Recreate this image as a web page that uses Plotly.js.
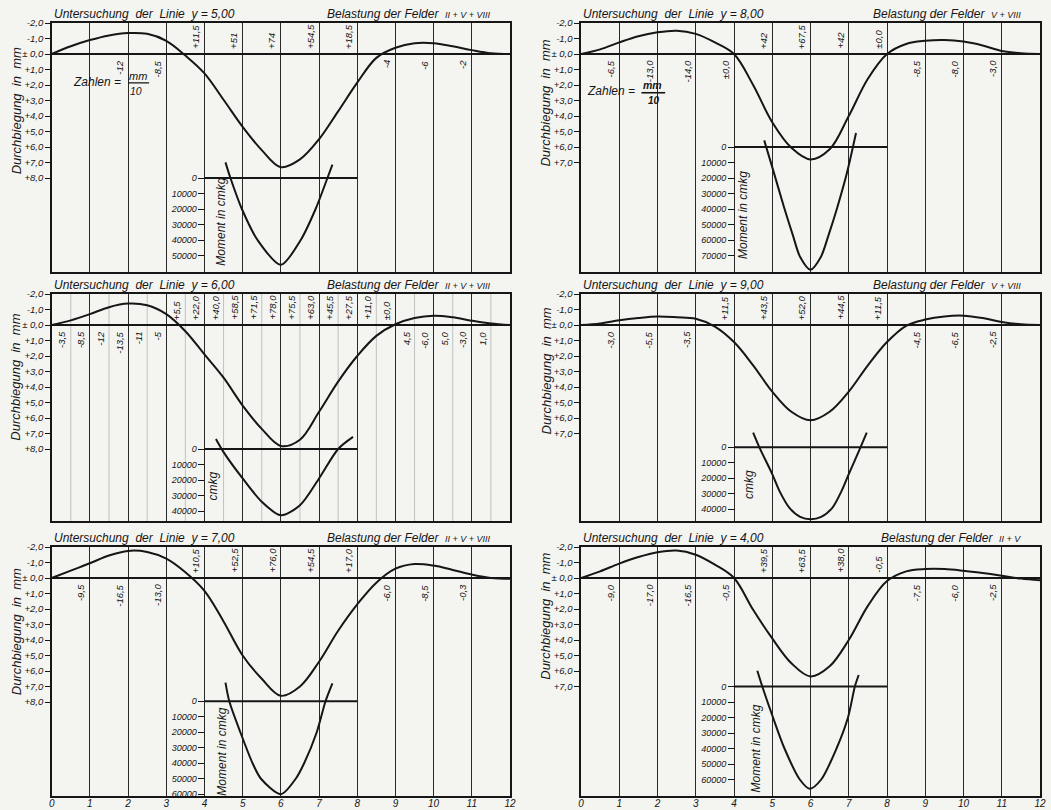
<!DOCTYPE html>
<html><head><meta charset="utf-8">
<script src="https://cdn.plot.ly/plotly-3.0.1.min.js"></script>
<style>html,body{margin:0;padding:0;background:#f4f4f1}</style>
</head><body><div id="chart" style="width:1051px;height:810px"></div>
<script>
// ---------- DATA ----------
const xPos = [0,0.5,1,1.5,2,2.5,3,3.5,4,4.5,5,5.5,6,6.5,7,7.5,8,8.5,9,9.5,10,10.5,11,11.5,12];

// deflection curves (mm, positive = downward)
const deflY5 = [0,-0.5,-0.9,-1.2,-1.35,-1.3,-0.85,0.1,1.25,2.95,4.7,6.2,7.3,6.8,5.5,3.7,1.85,0.25,-0.4,-0.7,-0.7,-0.5,-0.25,-0.05,0];
const deflY8 = [0,-0.3,-0.75,-1.15,-1.4,-1.5,-1.3,-0.75,0,2.0,4.4,6.05,6.8,6.15,4.0,1.6,0,-0.65,-0.85,-0.9,-0.8,-0.55,-0.2,-0.05,0];
const deflY6 = [0,-0.3,-0.7,-1.15,-1.38,-1.27,-0.7,0.4,1.9,3.4,5.2,6.7,7.8,7.4,5.6,3.65,2.0,0.7,-0.05,-0.45,-0.6,-0.5,-0.28,-0.1,0];
const deflY9 = [0,-0.1,-0.3,-0.45,-0.55,-0.5,-0.4,0.1,1.1,2.6,4.3,5.6,6.15,5.6,4.3,2.6,1.1,0.05,-0.35,-0.55,-0.6,-0.45,-0.2,-0.05,0];
const deflY7 = [0,-0.48,-0.95,-1.45,-1.75,-1.68,-1.25,-0.37,0.83,2.8,5.0,6.5,7.6,7.0,5.4,3.4,1.7,0.3,-0.6,-0.9,-0.8,-0.52,-0.22,0,0.05];
const deflY4 = [0,-0.43,-0.93,-1.35,-1.66,-1.77,-1.5,-0.86,0,2.05,3.9,5.5,6.35,5.7,4.0,1.8,0.2,-0.43,-0.58,-0.58,-0.47,-0.32,-0.15,0.04,0.15];

// moment curves (cmkg, positive = downward)
const momXY5 = [4.55,4.68,4.98,5.39,6.0,6.52,6.91,7.22,7.35];
const momMY5 = [-10100,0,20000,40000,56000,40000,20000,0,-8600];
const momXY8 = [4.79,5.0,5.31,5.54,5.73,6.0,6.27,6.47,6.7,6.95,7.19];
const momMY8 = [-4300,13000,39000,57000,71000,79200,71000,57000,39000,17000,-9000];
const momXY6 = [4.30,4.5,5.0,5.5,6.0,6.5,7.0,7.5,7.89];
const momMY6 = [-6500,2000,19000,34000,42800,36300,19000,0,-7800];
const momXY9 = [4.5,4.66,5.0,5.19,5.45,5.73,6.0,6.28,6.57,6.81,7.0,7.31,7.47];
const momMY9 = [-9300,0,17400,28400,39200,45000,46500,45000,39200,28400,17400,0,-9300];
const momXY7 = [4.55,4.65,4.94,5.26,5.48,6.0,6.39,6.61,6.94,7.17,7.35];
const momMY7 = [-12000,0,20000,40000,50000,60000,50000,40000,20000,0,-11500];
const momXY4 = [4.61,4.74,5.02,5.32,5.72,5.98,6.28,6.68,6.98,7.16,7.26];
const momMY4 = [-10200,0,20000,40000,60000,66000,60000,40000,20000,0,-7400];

// value labels along the zero line (side: 1 = above, -1 = below)
const noteXY5 = [2,3,4,5,6,7,8,9,10,11];
const noteTY5 = ['-12','-8,5','+11,5','+51','+74','+54,5','+18,5','-4','-6','-2'];
const noteSY5 = [-1,-1,1,1,1,1,1,-1,-1,-1];
const noteXY8 = [1,2,3,4,5,6,7,8,9,10,11];
const noteTY8 = ['-6,5','-13,0','-14,0','±0,0','+42','+67,5','+42','±0,0','-8,5','-8,0','-3,0'];
const noteSY8 = [-1,-1,-1,-1,1,1,1,1,-1,-1,-1];
const noteXY6 = [0.5,1,1.5,2,2.5,3,3.5,4,4.5,5,5.5,6,6.5,7,7.5,8,8.5,9,9.5,10,10.5,11,11.5];
const noteTY6 = ['-3,5','-8,5','-12','-13,5','-11','-5','+5,5','+22,0','+40,0','+58,5','+71,5','+78,0','+75,5','+63,0','+45,5','+27,5','+11,0','±0,0','4,5','-6,0','5,0','-3,0','1,0'];
const noteSY6 = [-1,-1,-1,-1,-1,-1,1,1,1,1,1,1,1,1,1,1,1,1,-1,-1,-1,-1,-1];
const noteXY9 = [1,2,3,4,5,6,7,8,9,10,11];
const noteTY9 = ['-3,0','-5,5','-3,5','+11,5','+43,5','+52,0','+44,5','+11,5','-4,5','-6,5','-2,5'];
const noteSY9 = [-1,-1,-1,1,1,1,1,1,-1,-1,-1];
const noteXY7 = [1,2,3,4,5,6,7,8,9,10,11];
const noteTY7 = ['-9,5','-16,5','-13,0','+10,5','+52,5','+76,0','+54,5','+17,0','-6,0','-8,5','-0,3'];
const noteSY7 = [-1,-1,-1,1,1,1,1,1,-1,-1,-1];
const noteXY4 = [1,2,3,4,5,6,7,8,9,10,11];
const noteTY4 = ['-9,0','-17,0','-16,5','-0,5','+39,5','+63,5','+38,0','-0,5','-7,5','-6,0','-2,5'];
const noteSY4 = [-1,-1,-1,-1,1,1,1,1,-1,-1,-1];

// tick labels
const xTickVals = [0,1,2,3,4,5,6,7,8,9,10,11,12];
const xTickText = ['0','1','2','3','4','5','6','7','8','9','10','11','12'];
const deflTickVals8 = [-2,-1,0,1,2,3,4,5,6,7,8];
const deflTickText8 = ['-2,0','-1,0','± 0,0','+1,0','+2,0','+3,0','+4,0','+5,0','+6,0','+7,0','+8,0'];
const deflTickVals7 = [-2,-1,0,1,2,3,4,5,6,7];
const deflTickText7 = ['-2,0','-1,0','± 0,0','+1,0','+2,0','+3,0','+4,0','+5,0','+6,0','+7,0'];
const momTicks4 = [0,10000,20000,30000,40000];
const momTicks5 = [0,10000,20000,30000,40000,50000];
const momTicks6 = [0,10000,20000,30000,40000,50000,60000];
const momTicks7 = [0,10000,20000,30000,40000,50000,60000,70000];

// texts
const lineTitles = ['y = 5,00','y = 8,00','y = 6,00','y = 9,00','y = 7,00','y = 4,00'];
const loadTitles = ['II + V + VIII','V + VIII','II + V + VIII','V + VIII','II + V + VIII','II + V'];
const momTitles = ['Moment in cmkg','Moment in cmkg','cmkg','cmkg','Moment in cmkg','Moment in cmkg'];

// ---------- LAYOUT ----------
const W = 1051, H = 810, PXMM = 15.5;
const FONT = '"Liberation Sans", Arial, sans-serif';
const INK = '#161616';
const cols = [[51.7, 510], [581, 1040]];
const rows = [[23, 272], [294, 521], [547, 796]];

const panels = [
  {c:0,r:0, defl:deflY5, mx:momXY5, my:momMY5, nx:noteXY5, nt:noteTY5, ns:noteSY5, tv:deflTickVals8, tt:deflTickText8, mt:momTicks5, off:8,   yt:3.7, mtx:4.44, mty:28000, zahlen:1, half:false},
  {c:1,r:0, defl:deflY8, mx:momXY8, my:momMY8, nx:noteXY8, nt:noteTY8, ns:noteSY8, tv:deflTickVals7, tt:deflTickText7, mt:momTicks7, off:6.0, yt:3.2, mtx:4.23, mty:44000, zahlen:2, half:false},
  {c:0,r:1, defl:deflY6, mx:momXY6, my:momMY6, nx:noteXY6, nt:noteTY6, ns:noteSY6, tv:deflTickVals8, tt:deflTickText8, mt:momTicks4, off:8,   yt:3.4, mtx:4.23, mty:24000, zahlen:0, half:true},
  {c:1,r:1, defl:deflY9, mx:momXY9, my:momMY9, nx:noteXY9, nt:noteTY9, ns:noteSY9, tv:deflTickVals7, tt:deflTickText7, mt:momTicks4, off:7.88,yt:3.0, mtx:4.41, mty:24000, zahlen:0, half:false},
  {c:0,r:2, defl:deflY7, mx:momXY7, my:momMY7, nx:noteXY7, nt:noteTY7, ns:noteSY7, tv:deflTickVals8, tt:deflTickText8, mt:momTicks6, off:7.95,yt:3.5, mtx:4.46, mty:32500, zahlen:0, half:false},
  {c:1,r:2, defl:deflY4, mx:momXY4, my:momMY4, nx:noteXY4, nt:noteTY4, ns:noteSY4, tv:deflTickVals7, tt:deflTickText7, mt:momTicks6, off:7,   yt:2.5, mtx:4.55, mty:40000, zahlen:0, half:false}
];

const traces = [], annotations = [], shapes = [];
const layout = {
  width: W, height: H, margin: {l:0, r:0, t:0, b:0},
  paper_bgcolor: '#f4f4f1', plot_bgcolor: '#f4f4f1',
  showlegend: false,
  font: {family: FONT, color: INK, size: 10, style: 'italic'}
};

panels.forEach((p, i) => {
  const xa = i === 0 ? 'x' : 'x' + (i + 1);
  const ya = i === 0 ? 'y' : 'y' + (2 * i + 1);
  const ym = 'y' + (2 * i + 2);
  const xKey = i === 0 ? 'xaxis' : 'xaxis' + (i + 1);
  const yKey = i === 0 ? 'yaxis' : 'yaxis' + (2 * i + 1);
  const ymKey = 'yaxis' + (2 * i + 2);
  const [cx0, cx1] = cols[p.c];
  const [ry0, ry1] = rows[p.r];
  const bottom = -2 + (ry1 - ry0) / PXMM;
  const bottomRow = p.r === 2;

  layout[xKey] = {
    domain: [cx0 / W, cx1 / W], anchor: ya, range: [0, 12],
    tickvals: xTickVals, ticktext: xTickText, showticklabels: bottomRow,
    ticks: '', ticklabelstandoff: -3, tickfont: {family: FONT, size: 10, style: 'italic', color: INK},
    showgrid: true, gridcolor: '#2a2a2a', gridwidth: 1,
    showline: true, mirror: true, linecolor: INK, linewidth: 1.6, zeroline: false, fixedrange: true
  };
  layout[yKey] = {
    domain: [1 - ry1 / H, 1 - ry0 / H], anchor: xa, range: [bottom, -2],
    tickvals: p.tv, ticktext: p.tt, ticks: 'outside', ticklen: 5, tickwidth: 1, tickcolor: INK,
    tickfont: {family: FONT, size: 9.5, style: 'italic', color: INK},
    showgrid: false, showline: true, mirror: true, linecolor: INK, linewidth: 1.6,
    zeroline: true, zerolinecolor: INK, zerolinewidth: 2.2, fixedrange: true
  };
  layout[ymKey] = {
    overlaying: ya, anchor: 'free', side: 'left',
    position: (cx0 + (cx1 - cx0) * 4 / 12) / W,
    range: [(bottom - p.off) * 10000, (-2 - p.off) * 10000],
    tickvals: p.mt, ticktext: p.mt.map(v => String(v)),
    ticks: 'outside', ticklen: 6, tickwidth: 1, tickcolor: INK,
    tickfont: {family: FONT, size: 9, style: 'italic', color: INK},
    showgrid: false, showline: false, zeroline: false, fixedrange: true
  };

  // half-step grid lines
  if (p.half) {
    xPos.filter(v => v % 1 !== 0).forEach(v => {
      shapes.push({type: 'line', xref: xa, yref: ya + ' domain', x0: v, x1: v, y0: 0, y1: 1,
        line: {color: '#a0a0a0', width: 0.6}, layer: 'below'});
    });
  }

  traces.push({x: xPos, y: p.defl, xaxis: xa, yaxis: ya, mode: 'lines',
    line: {shape: 'spline', smoothing: 1, color: INK, width: 2}, hoverinfo: 'skip'});
  traces.push({x: p.mx, y: p.my, xaxis: xa, yaxis: ym, mode: 'lines',
    line: {shape: 'spline', smoothing: 0.8, color: INK, width: 2}, hoverinfo: 'skip'});

  // moment zero line
  shapes.push({type: 'line', xref: xa, yref: ym, x0: 4, x1: 8, y0: 0, y1: 0, line: {color: INK, width: 2}});

  // value labels
  p.nx.forEach((v, k) => {
    const up = p.ns[k] > 0;
    annotations.push({xref: xa, yref: ya, x: v - 0.03, y: up ? -0.2 : 0.28,
      xanchor: 'right', yanchor: up ? 'bottom' : 'top', textangle: -90,
      text: p.nt[k], showarrow: false, font: {family: FONT, size: 9.5, style: 'italic', color: INK}});
  });

  // titles
  annotations.push({xref: xa, yref: ya, x: 0, y: -2, xanchor: 'left', yanchor: 'bottom', yshift: 0,
    text: 'Untersuchung  der  Linie  ' + lineTitles[i], showarrow: false,
    font: {family: FONT, size: 12, style: 'italic', color: INK}});
  annotations.push({xref: xa, yref: ya, x: 11.55, y: -2, xanchor: 'right', yanchor: 'bottom', yshift: 0,
    text: 'Belastung der Felder  <span style="font-size:9px">' + loadTitles[i] + '</span>', showarrow: false,
    font: {family: FONT, size: 12, style: 'italic', color: INK}});

  // axis titles
  annotations.push({xref: 'paper', yref: ya, x: (p.c === 0 ? 16 : 546) / W, y: p.yt,
    xanchor: 'center', yanchor: 'middle', textangle: -90, text: 'Durchbiegung  in  mm', showarrow: false,
    font: {family: FONT, size: 13, style: 'italic', color: INK}});
  annotations.push({xref: xa, yref: ym, x: p.mtx, y: p.mty,
    xanchor: 'center', yanchor: 'middle', textangle: -90, text: momTitles[i], showarrow: false,
    font: {family: FONT, size: 12, style: 'italic', color: INK}});

  if (bottomRow) {
    annotations.push({xref: xa, yref: ya, x: -0.12, y: bottom, xanchor: 'right', yanchor: 'top', yshift: 0,
      text: 'x =', showarrow: false, font: {family: FONT, size: 10, style: 'italic', color: INK}});
  }

  // "Zahlen = mm/10"
  if (p.zahlen === 1) {
    annotations.push({xref: xa, yref: ya, x: 1.86, y: 1.8, xanchor: 'right', yanchor: 'middle',
      text: 'Zahlen =', showarrow: false, font: {family: FONT, size: 12, style: 'italic', color: INK}});
    annotations.push({xref: xa, yref: ya, x: 2.27, y: 1.4, xanchor: 'center', yanchor: 'middle',
      text: 'mm', showarrow: false, font: {family: FONT, size: 11, style: 'italic', color: INK}});
    annotations.push({xref: xa, yref: ya, x: 2.2, y: 2.4, xanchor: 'center', yanchor: 'middle',
      text: '10', showarrow: false, font: {family: FONT, size: 10.5, style: 'italic', color: INK}});
    shapes.push({type: 'line', xref: xa, yref: ya, x0: 2.0, x1: 2.55, y0: 1.86, y1: 1.86, line: {color: INK, width: 1.2}});
  } else if (p.zahlen === 2) {
    annotations.push({xref: xa, yref: ya, x: 1.47, y: 2.4, xanchor: 'right', yanchor: 'middle',
      text: 'Zahlen =', showarrow: false, font: {family: FONT, size: 12, style: 'italic', color: INK}});
    annotations.push({xref: xa, yref: ya, x: 1.88, y: 2.0, xanchor: 'center', yanchor: 'middle',
      text: '<b>mm</b>', showarrow: false, font: {family: FONT, size: 10.5, style: 'italic', color: INK}});
    annotations.push({xref: xa, yref: ya, x: 1.9, y: 3.0, xanchor: 'center', yanchor: 'middle',
      text: '<b>10</b>', showarrow: false, font: {family: FONT, size: 10, style: 'italic', color: INK}});
    shapes.push({type: 'line', xref: xa, yref: ya, x0: 1.58, x1: 2.2, y0: 2.5, y1: 2.5, line: {color: INK, width: 1.6}});
  }
});

layout.annotations = annotations;
layout.shapes = shapes;

Plotly.newPlot('chart', traces, layout, {staticPlot: true, displayModeBar: false});
</script>
</body></html>
